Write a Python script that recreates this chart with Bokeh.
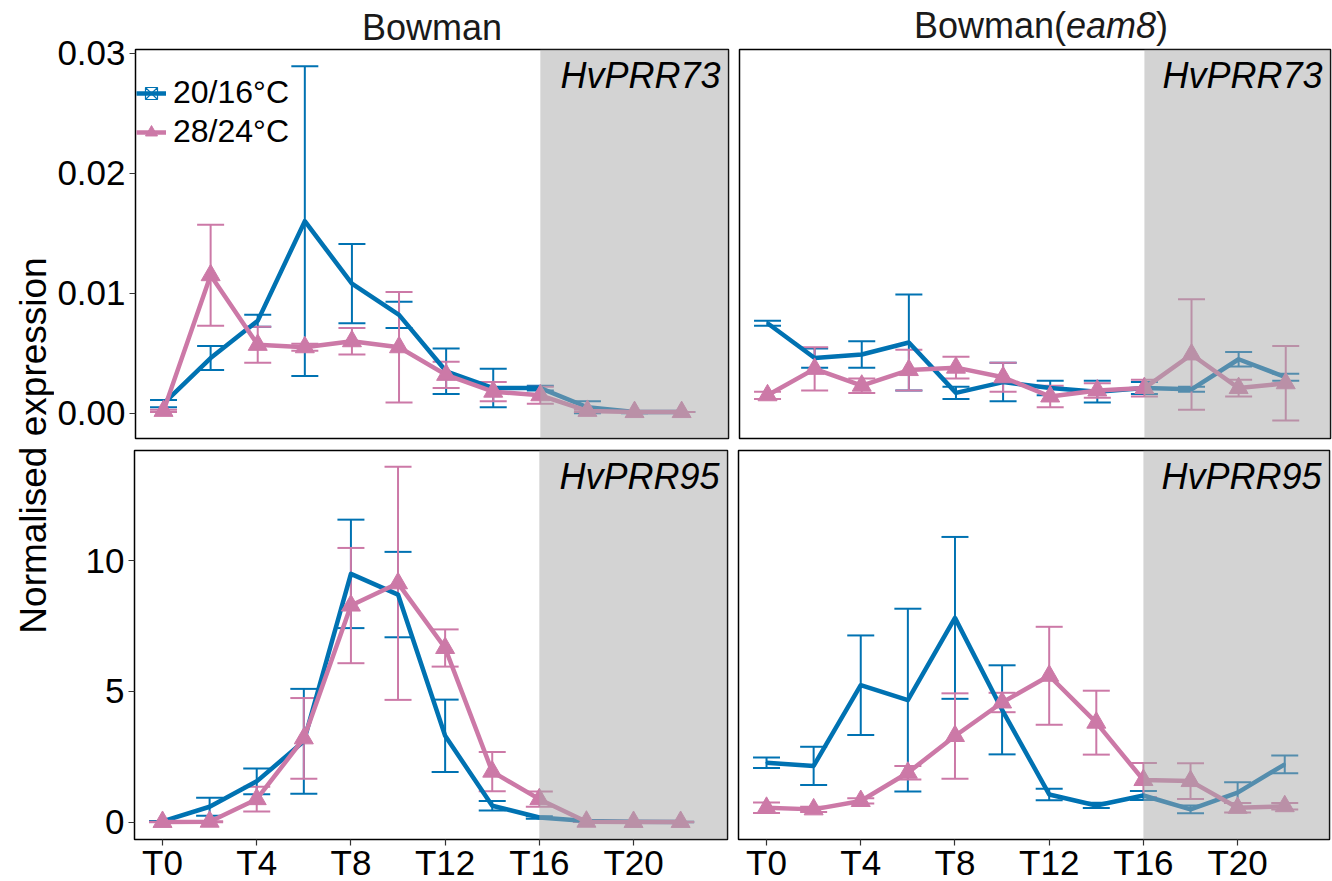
import math
from bokeh.plotting import figure
from bokeh.models import (Range1d, FixedTicker, PrintfTickFormatter, Label, BoxAnnotation,
                          Whisker, TeeHead, ColumnDataSource, Legend, LegendItem, Title)
from bokeh.layouts import row, column
from bokeh.embed import file_html
from bokeh.resources import INLINE

# ---------------- data ----------------
hours = [0, 2, 4, 6, 8, 10, 12, 14, 16, 18, 20, 22]
tick_hours = [0, 4, 8, 12, 16, 20]
tick_labels = ["T0", "T4", "T8", "T12", "T16", "T20"]
dark_start = 16

series_names = ["20/16°C", "28/24°C"]
genotypes = ["Bowman", "Bowman(eam8)"]
genes = ["HvPRR73", "HvPRR95"]

# Bowman, HvPRR73
bow73_cool = [0.0008, 0.0046, 0.0077, 0.0160, 0.0108, 0.0082, 0.0035, 0.0021, 0.0021, 0.0005, 0.0001, 0.0001]
bow73_cool_se = [0.0003, 0.0010, 0.0005, 0.0129, 0.0033, 0.0011, 0.0019, 0.0016, 0.0002, 0.0005, 0.0001, 0.0000]
bow73_warm = [0.0002, 0.0115, 0.0057, 0.0055, 0.0060, 0.0055, 0.0032, 0.0018, 0.0015, 0.0002, 0.0001, 0.0001]
bow73_warm_se = [0.0001, 0.0042, 0.0015, 0.0003, 0.0011, 0.0046, 0.0011, 0.0008, 0.0007, 0.0001, 0.0000, 0.0000]

# Bowman(eam8), HvPRR73
eam73_cool = [0.0075, 0.0046, 0.0049, 0.0059, 0.0017, 0.0026, 0.0021, 0.0018, 0.0021, 0.0020, 0.0045, 0.0030]
eam73_cool_se = [0.0002, 0.0008, 0.0011, 0.0040, 0.0005, 0.0016, 0.0006, 0.0009, 0.0005, 0.0002, 0.0006, 0.0003]
eam73_warm = [0.0015, 0.0037, 0.0023, 0.0036, 0.0038, 0.0030, 0.0014, 0.0019, 0.0021, 0.0049, 0.0021, 0.0025]
eam73_warm_se = [0.0003, 0.0018, 0.0006, 0.0017, 0.0009, 0.0012, 0.0009, 0.0006, 0.0007, 0.0046, 0.0007, 0.0031]

# Bowman, HvPRR95
bow95_cool = [0.04, 0.60, 1.57, 3.10, 9.49, 8.70, 3.31, 0.64, 0.19, 0.06, 0.03, 0.02]
bow95_cool_se = [0.02, 0.34, 0.49, 2.00, 2.07, 1.63, 1.38, 0.18, 0.05, 0.02, 0.01, 0.01]
bow95_warm = [0.02, 0.03, 0.89, 3.21, 8.28, 9.13, 6.66, 1.94, 0.89, 0.03, 0.02, 0.02]
bow95_warm_se = [0.01, 0.02, 0.47, 1.54, 2.20, 4.45, 0.71, 0.75, 0.29, 0.01, 0.01, 0.01]

# Bowman(eam8), HvPRR95
eam95_cool = [2.28, 2.16, 5.24, 4.67, 7.81, 4.30, 1.07, 0.65, 1.03, 0.50, 1.14, 2.22]
eam95_cool_se = [0.20, 0.73, 1.90, 3.49, 3.09, 1.70, 0.22, 0.10, 0.17, 0.15, 0.40, 0.34]
eam95_warm = [0.56, 0.50, 0.82, 1.90, 3.30, 4.58, 5.60, 3.81, 1.62, 1.58, 0.56, 0.62]
eam95_warm_se = [0.20, 0.10, 0.10, 0.26, 1.63, 0.37, 1.87, 1.22, 0.65, 0.68, 0.18, 0.12]

ticks_73 = [0.0, 0.01, 0.02, 0.03]
ticks_95 = [0, 5, 10]

# ---------------- style ----------------
BLUE = "#0072B2"
PINK = "#CC79A7"
FONT = "Liberation Sans"
FW_L, FW_R, FH = 593, 591, 389
STRIP_H, TOP, MID, LEFT, YT_W = 47, 2, 6, 80, 54
RGAP_L, LGAP_R, RIGHT = 5, 6, 2
CAP = 27
STRIP = 36

x_left = Range1d(-1.19, 23.99)
x_right = Range1d(-1.19, 23.90)
y73 = Range1d(-0.0021, 0.0303)
y95 = Range1d(-0.65, 14.2)


def make_panel(fw, xr, yr, show_x, show_y, top, bottom, left, right):
    p = figure(frame_width=fw, frame_height=FH, x_range=xr, y_range=yr,
               x_axis_location="below" if show_x else None,
               y_axis_location="left" if show_y else None,
               toolbar_location=None, output_backend="svg",
               min_border_top=top, min_border_bottom=bottom,
               min_border_left=left, min_border_right=right,
               background_fill_color="white", border_fill_color="white",
               outline_line_color="black", outline_line_width=1.5)
    p.grid.visible = False
    for ax in p.axis:
        ax.axis_line_color = None
        ax.major_tick_out = 6
        ax.major_tick_in = 0
        ax.minor_tick_line_color = None
        ax.major_tick_line_color = "#333333"
        ax.major_tick_line_width = 1.2
        ax.major_label_text_font = FONT
        ax.major_label_text_font_size = "35px"
        ax.major_label_text_color = "black"
    if show_x:
        p.xaxis.ticker = FixedTicker(ticks=tick_hours)
        p.xaxis.major_label_overrides = {h: t for h, t in zip(tick_hours, tick_labels)}
        p.xaxis.major_label_standoff = -3
    if show_y:
        p.yaxis.major_label_standoff = 4
    return p


def add_series(p, mean, se, color, marker):
    lo = [m - s for m, s in zip(mean, se)]
    hi = [m + s for m, s in zip(mean, se)]
    src = ColumnDataSource(dict(x=hours, y=mean, lo=lo, hi=hi))
    w = Whisker(base="x", upper="hi", lower="lo", source=src,
                line_color=color, line_width=2,
                upper_head=TeeHead(size=CAP, line_color=color, line_width=2),
                lower_head=TeeHead(size=CAP, line_color=color, line_width=2))
    p.add_layout(w)
    ln = p.line("x", "y", source=src, line_color=color, line_width=4.5, line_join="round")
    if marker == "triangle":
        mk = p.scatter("x", "y", source=src, marker="triangle", size=19,
                       fill_color=color, line_color=color)
    else:
        mk = p.scatter("x", "y", source=src, marker="square_x", size=1,
                       fill_color=None, line_color=color, line_width=1.2)
    return ln, mk


def decorate(p, fw, gene):
    p.add_layout(BoxAnnotation(left=dark_start, fill_color="#A7A7A7", fill_alpha=0.5,
                               line_color=None))
    p.add_layout(Label(x=fw - 8, y=FH - 26, x_units="screen", y_units="screen",
                       text=gene, text_align="right", text_baseline="middle",
                       text_font=FONT, text_font_style="italic", text_font_size="36px",
                       text_color="black"))


def blank(width, height):
    f = figure(width=width, height=height, x_axis_location=None, y_axis_location=None,
               toolbar_location=None, output_backend="svg", min_border=0,
               outline_line_color=None, background_fill_color="white",
               border_fill_color="white")
    f.grid.visible = False
    return f


tl = make_panel(FW_L, x_left, y73, False, True, STRIP_H + TOP, MID, LEFT, RGAP_L)
tr = make_panel(FW_R, x_right, y73, False, False, TOP, MID, LGAP_R, RIGHT)
bl = make_panel(FW_L, x_left, y95, True, True, MID, 0, LEFT, RGAP_L)
br = make_panel(FW_R, x_right, y95, True, False, MID, 0, LGAP_R, RIGHT)

tl.add_layout(Title(text=genotypes[0], align="center", standoff=3, text_font=FONT,
                    text_font_size=f"{STRIP}px", text_font_style="normal",
                    text_color="#1a1a1a"), "above")

tl.yaxis.ticker = FixedTicker(ticks=ticks_73)
tl.yaxis.formatter = PrintfTickFormatter(format="%.2f")
bl.yaxis.ticker = FixedTicker(ticks=ticks_95)
bl.yaxis.formatter = PrintfTickFormatter(format="%d")

b_ln, b_mk = add_series(tl, bow73_cool, bow73_cool_se, BLUE, "square_x")
p_ln, p_mk = add_series(tl, bow73_warm, bow73_warm_se, PINK, "triangle")
add_series(tr, eam73_cool, eam73_cool_se, BLUE, "square_x")
add_series(tr, eam73_warm, eam73_warm_se, PINK, "triangle")
add_series(bl, bow95_cool, bow95_cool_se, BLUE, "square_x")
add_series(bl, bow95_warm, bow95_warm_se, PINK, "triangle")
add_series(br, eam95_cool, eam95_cool_se, BLUE, "square_x")
add_series(br, eam95_warm, eam95_warm_se, PINK, "triangle")

decorate(tl, FW_L, genes[0])
decorate(tr, FW_R, genes[0])
decorate(bl, FW_L, genes[1])
decorate(br, FW_R, genes[1])

legend = Legend(items=[LegendItem(label=series_names[0], renderers=[b_ln, b_mk]),
                       LegendItem(label=series_names[1], renderers=[p_ln, p_mk])],
                location=(1, FH - 101), orientation="vertical", padding=0, margin=0,
                spacing=2, glyph_width=30, glyph_height=34, label_height=34,
                label_standoff=7, label_text_font=FONT, label_text_font_size="32px",
                label_text_color="black", border_line_color=None, background_fill_alpha=0)
tl.add_layout(legend)

# ---------------- facet strip for the right column ----------------
strip_r = blank(LGAP_R + FW_R + RIGHT, STRIP_H)
parts = [("Bowman(", "normal", 4.223), ("eam8", "italic", 2.501), (")", "normal", 0.333)]
total_w = sum(w for _, _, w in parts) * STRIP
start = LGAP_R + FW_R / 2 - total_w / 2
for txt, style, w in parts:
    strip_r.add_layout(Label(x=start, y=22, x_units="screen", y_units="screen",
                             text=txt, text_align="left", text_baseline="middle",
                             text_font=FONT, text_font_style=style,
                             text_font_size=f"{STRIP}px", text_color="#1a1a1a"))
    start += w * STRIP

# ---------------- y-axis title ----------------
TOTAL_H = 881
yt = blank(YT_W, TOTAL_H)
yt.add_layout(Label(x=33, y=TOTAL_H - 445, x_units="screen", y_units="screen",
                    angle=math.pi / 2, text="Normalised expression", text_align="center",
                    text_baseline="middle", text_font=FONT, text_font_size="37px",
                    text_color="black"))

layout = row(yt, column(row(tl, column(strip_r, tr)), row(bl, br)))

open("out.html", "w").write(file_html(layout, INLINE))
